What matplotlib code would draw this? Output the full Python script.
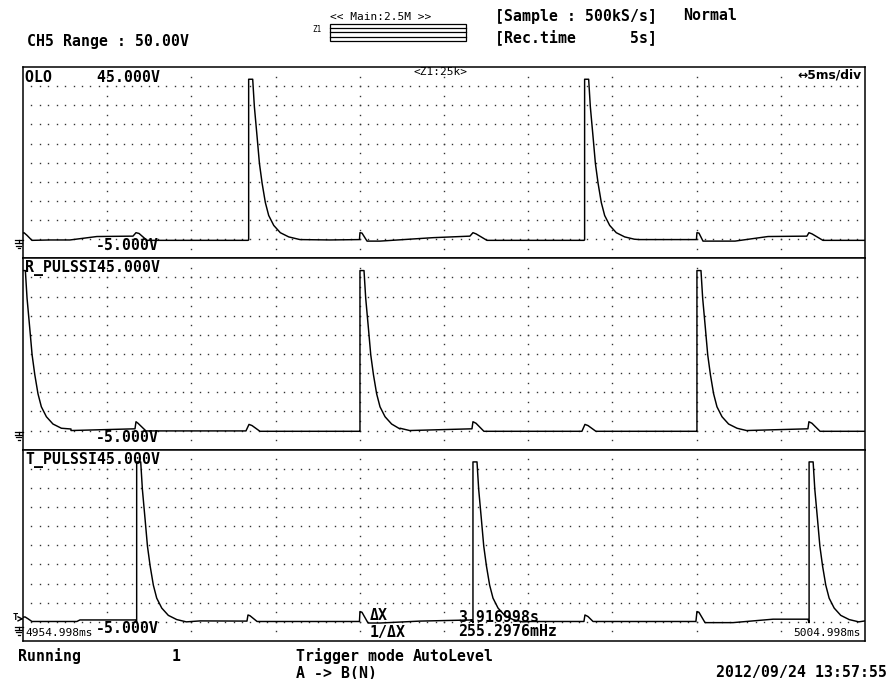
import matplotlib
matplotlib.use("Agg")
import numpy as np
import matplotlib.pyplot as plt
from matplotlib.lines import Line2D
from matplotlib.patches import Rectangle

# ---------------- data ----------------
channel_names = ["OLO", "R_PULSSI", "T_PULSSI"]
v_top_label = "45.000V"
v_bottom_label = "-5.000V"
t_start_label = "4954.998ms"
t_end_label = "5004.998ms"
v_min, v_max = -5.0, 45.0
t_span_ms = 50.0

# main pulse shape (ms after rising edge, volts)
pulse_dt = [0.0, 0.0, 0.24, 0.34, 0.50, 0.64, 0.80, 0.99, 1.19, 1.49, 1.88, 2.38, 2.95]
pulse_v = [-0.2, 41.8, 41.8, 34.6, 26.8, 19.8, 14.6, 9.6, 6.2, 3.6, 1.7, 0.6, 0.0]

# rising-edge times of the big pulses (ms from the left edge)
olo_pulse_t = [13.40, 33.35]
r_pulse_t = [-0.10, 20.01, 40.02]
t_pulse_t = [6.75, 26.72, 46.68]

# baseline / crosstalk points (ms, V)
olo_base_t = [0.0, 0.06, 0.24, 0.53, 1.6, 2.79, 4.39, 6.53, 6.71, 6.89, 7.36, 10.5, 13.36,
              16.45, 18.23, 19.98, 20.01, 20.13, 20.43, 21.2, 24.35, 26.54, 26.72, 26.9, 27.55, 33.31,
              36.6, 39.99, 40.02, 40.14, 40.38, 42.28, 44.24, 46.55, 46.67, 46.85, 47.5, 50.0]
olo_base_v = [1.6, 1.7, 1.0, -0.3, -0.2, -0.2, 0.7, 0.8, 1.7, 1.5, -0.3, -0.3, -0.3,
              -0.1, -0.2, -0.1, 1.7, 1.6, -0.5, -0.5, 0.4, 0.8, 1.7, 1.4, -0.3, -0.3,
              -0.1, -0.1, 1.7, 1.6, -0.5, -0.5, 0.7, 0.8, 1.7, 1.4, -0.3, -0.3]

r_base_t = [2.85, 6.65, 6.71, 6.83, 7.30, 10.51, 13.24, 13.42, 13.60, 14.07, 19.95,
            22.39, 26.66, 26.72, 26.90, 27.37, 33.19, 33.37, 33.55, 34.02, 39.96,
            42.58, 46.61, 46.67, 46.85, 47.33, 50.0]
r_base_v = [0.4, 0.45, 2.3, 1.9, -0.1, -0.1, -0.1, 1.6, 1.3, -0.2, -0.2,
            0.4, 0.45, 2.3, 1.9, -0.2, -0.2, 1.6, 1.3, -0.2, -0.2,
            0.4, 0.45, 2.3, 1.9, -0.2, -0.2]

t_base_t = [0.0, 0.12, 0.30, 0.53, 3.2, 3.38, 6.71,
            10.51, 13.30, 13.36, 13.48, 13.90, 19.98, 20.01, 20.13, 20.49, 21.2, 23.57, 26.66,
            30.1, 33.31, 33.37, 33.55, 33.85, 39.96, 40.02, 40.14, 40.5, 42.16, 44.54, 46.61, 50.0]
t_base_v = [1.2, 1.3, 0.8, 0.1, 0.1, 0.5, 0.5,
            0.25, 0.2, 1.8, 1.6, 0.1, 0.1, 2.7, 2.5, -0.3, -0.3, 0.2, 0.5,
            0.1, 0.1, 1.8, 1.4, 0.1, 0.1, 2.7, 2.5, -0.2, -0.2, 0.7, 0.7, 0.25]

channels = [
    (olo_pulse_t, olo_base_t, olo_base_v),
    (r_pulse_t, r_base_t, r_base_v),
    (t_pulse_t, t_base_t, t_base_v),
]

# ---------------- figure ----------------
W, H = 891, 679
fig = plt.figure(figsize=(W / 100, H / 100), dpi=100)
fig.patch.set_facecolor("white")


def fx(x):
    return x / W


def fy(y):
    return 1 - y / H


MONO_B = dict(family="DejaVu Sans Mono", weight="bold", size=10.75)
MONO_S = dict(family="DejaVu Sans Mono", size=8)

left_px, right_px = 23, 865
top_px, bottom_px = 67, 641
ph = (bottom_px - top_px) / 3


def build_trace(pulses, bt, bv):
    pts = list(zip(bt, bv))
    for t0 in pulses:
        for dt, v in zip(pulse_dt, pulse_v):
            pts.append((t0 + dt, v))
    pts.sort(key=lambda p: p[0])
    return [p[0] for p in pts], [p[1] for p in pts]


row_levels = np.arange(0, 41, 5)
col_levels = np.arange(5, 46, 5)
dot_t = np.arange(0.5, 50, 0.5)
dot_v = np.arange(-2.5, 45, 2.5)

axes = []
for i, (pulses, bt, bv) in enumerate(channels):
    ptop = top_px + i * ph
    ax = fig.add_axes([fx(left_px), fy(ptop + ph), fx(right_px) - fx(left_px), ph / H])
    ax.set_xlim(0, t_span_ms)
    ax.set_ylim(v_min, v_max)
    ax.set_xticks([])
    ax.set_yticks([])
    for s in ax.spines.values():
        s.set_linewidth(1.1)
        s.set_color("black")
    # dotted grid
    gx, gy = np.meshgrid(dot_t, row_levels)
    ax.plot(gx.ravel(), gy.ravel(), linestyle="none", marker="s", markersize=1.0,
            markeredgewidth=0, color="#333333", zorder=1)
    cx, cy = np.meshgrid(col_levels, dot_v)
    ax.plot(cx.ravel(), cy.ravel(), linestyle="none", marker="s", markersize=1.0,
            markeredgewidth=0, color="#333333", zorder=1)
    tx, tv = build_trace(pulses, bt, bv)
    ax.plot(tx, tv, color="black", lw=1.05, zorder=3)
    axes.append(ax)

    # labels
    fig.text(fx(25), fy(ptop + 10), f"{channel_names[i]:<8s}{v_top_label}",
             ha="left", va="center", **MONO_B)
    fig.text(fx(96), fy(ptop + ph - 12.5), v_bottom_label, ha="left", va="center", **MONO_B)

    # ground symbol at 0 V
    y0 = ptop + ph - ph / 10
    if i == 2:
        y0 += 4
        fig.text(fx(13), fy(y0 - 8), "T", ha="left", va="center",
                 family="DejaVu Sans Mono", size=6.5, weight="bold")
        fig.add_artist(Line2D([fx(18), fx(22)], [fy(y0 - 9), fy(y0 - 7)], color="black", lw=1.0))
        fig.add_artist(Line2D([fx(18), fx(22)], [fy(y0 - 5), fy(y0 - 7)], color="black", lw=1.0))
    segs = [((15, y0 + 1), (23, y0 + 1)), ((18.5, y0 + 1), (18.5, y0 + 4)),
            ((15, y0 + 4), (22, y0 + 4)), ((16, y0 + 6.5), (21, y0 + 6.5)),
            ((17.5, y0 + 9), (19.5, y0 + 9))]
    for (xa, ya), (xb, yb) in segs:
        fig.add_artist(Line2D([fx(xa), fx(xb)], [fy(ya), fy(yb)], color="black", lw=0.9))

# panel 1 extras
fig.text(fx(441), fy(72), "<Z1:25k>", ha="center", va="center", **MONO_S)
fig.text(fx(861), fy(75), "↔5ms/div", ha="right", va="center",
         family="DejaVu Sans", weight="bold", size=8.8)

# panel 3 extras
fig.text(fx(25), fy(633.5), t_start_label, ha="left", va="center", **MONO_S)
fig.text(fx(861), fy(633.5), t_end_label, ha="right", va="center", **MONO_S)
fig.text(fx(370), fy(616), "ΔX", ha="left", va="center", **MONO_B)
fig.text(fx(370), fy(632), "1/ΔX", ha="left", va="center", **MONO_B)
fig.text(fx(458), fy(618), "3.916998s", ha="left", va="center", **MONO_B)
fig.text(fx(458), fy(632), "255.2976mHz", ha="left", va="center", **MONO_B)

# header
fig.text(fx(27), fy(41.5), "CH5 Range : 50.00V", ha="left", va="center", **MONO_B)
fig.text(fx(330), fy(16.5), "<< Main:2.5M >>", ha="left", va="center", **MONO_S)
fig.text(fx(312), fy(30), "Z1", ha="left", va="center", family="DejaVu Sans Mono", size=5.5)
fig.add_artist(Rectangle((fx(330), fy(41)), fx(466) - fx(330), (41 - 24) / H,
                         fill=False, edgecolor="black", lw=0.9))
for yy in [28, 32, 36.5]:
    fig.add_artist(Line2D([fx(330), fx(466)], [fy(yy), fy(yy)], color="black", lw=0.9))
fig.text(fx(495), fy(16), "[Sample : 500kS/s]", ha="left", va="center", **MONO_B)
fig.text(fx(683), fy(16), "Normal", ha="left", va="center", **MONO_B)
fig.text(fx(495), fy(37), "[Rec.time      5s]", ha="left", va="center", **MONO_B)

# footer
fig.text(fx(18), fy(656.5), "Running", ha="left", va="center", **MONO_B)
fig.text(fx(172), fy(656.5), "1", ha="left", va="center", **MONO_B)
fig.text(fx(296.5), fy(656.5), "Trigger mode", ha="left", va="center", **MONO_B)
fig.text(fx(413), fy(656.5), "AutoLevel", ha="left", va="center", **MONO_B)
fig.text(fx(296.5), fy(673), "A -> B(N)", ha="left", va="center", **MONO_B)
fig.text(fx(887), fy(673), "2012/09/24 13:57:55", ha="right", va="center", **MONO_B)

fig.savefig("out.png", dpi=100, facecolor="white")
